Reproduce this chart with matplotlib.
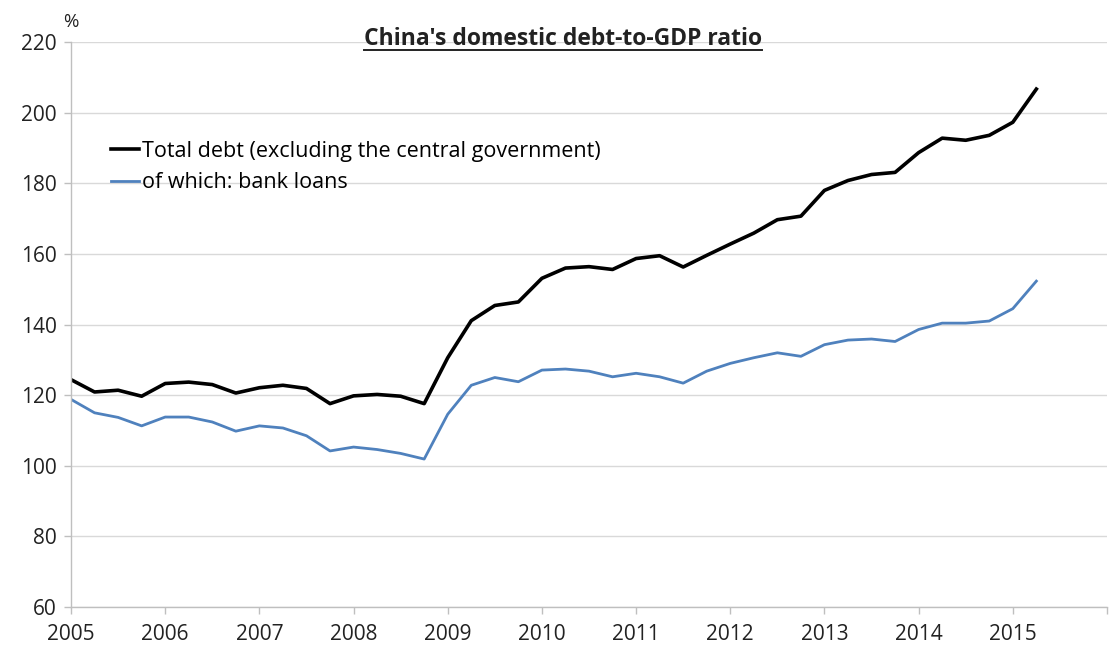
import matplotlib.pyplot as plt
import matplotlib as mpl
from matplotlib.lines import Line2D

mpl.rcParams.update({'font.family': ['Open Sans', 'DejaVu Sans'], 'font.size': 15})

# quarterly observations starting 2005
start_year = 2005
total_debt = [124.4, 120.9, 121.4, 119.7, 123.3, 123.7, 123.0, 120.6, 122.1, 122.8,
              121.9, 117.6, 119.8, 120.2, 119.7, 117.6, 130.6, 141.1, 145.4, 146.4,
              153.1, 156.0, 156.4, 155.6, 158.7, 159.5, 156.3, 159.6, 162.8, 165.9,
              169.7, 170.7, 178.0, 180.8, 182.5, 183.1, 188.7, 192.8, 192.2, 193.6,
              197.3, 206.7]
bank_loans = [118.8, 115.0, 113.7, 111.3, 113.8, 113.8, 112.4, 109.8, 111.3, 110.7,
              108.5, 104.2, 105.3, 104.6, 103.5, 101.9, 114.6, 122.8, 125.0, 123.8,
              127.1, 127.4, 126.8, 125.2, 126.2, 125.2, 123.4, 126.8, 129.0, 130.6,
              132.0, 131.0, 134.3, 135.6, 135.9, 135.2, 138.6, 140.4, 140.4, 141.0,
              144.5, 152.3]
years = list(range(2005, 2017))
year_labels = [str(y) for y in range(2005, 2016)] + ['']

x = [start_year + i / 4 for i in range(len(total_debt))]

fig = plt.figure(figsize=(11.13, 6.48), dpi=100)
ax = fig.add_axes([0.0638, 0.0633, 0.9308, 0.8717])

ax.plot(x, total_debt, color='black', lw=2.6, label='Total debt (excluding the central government)')
ax.plot(x, bank_loans, color='#4f81bd', lw=2.0, label='of which: bank loans')

ax.set_xlim(2005, 2016)
ax.set_ylim(60, 220)
ax.set_yticks(range(60, 221, 20))
ax.set_xticks(years)
ax.set_xticklabels(year_labels)

ax.grid(axis='y', color='#d9d9d9', lw=1)
ax.set_axisbelow(True)
for s in ['top', 'right']:
    ax.spines[s].set_visible(False)
for s in ['left', 'bottom']:
    ax.spines[s].set_color('#bfbfbf')
    ax.spines[s].set_linewidth(1)
ax.tick_params(axis='both', colors='#bfbfbf', labelcolor='#222222', length=5, width=1,
               labelsize=15)
ax.tick_params(axis='y', pad=5)
ax.tick_params(axis='x', pad=7)

ax.text(-0.008, 1.035, '%', transform=ax.transAxes, fontsize=13.5, ha='left', va='center', color='#222222')

leg = ax.legend(loc='upper left', bbox_to_anchor=(0.02, 0.86), frameon=False,
                handlelength=1.3, handletextpad=0.12, labelspacing=0.5, fontsize=15.5)

# title with underline
title = fig.text(0.506, 0.94, "China's domestic debt-to-GDP ratio", ha='center', va='center',
                 fontsize=16.5, fontweight='bold', color='#222222')
fig.canvas.draw()
bb = title.get_window_extent().transformed(fig.transFigure.inverted())
fig.add_artist(Line2D([bb.x0, bb.x1], [bb.y0 + 0.002, bb.y0 + 0.002], color='#222222', lw=1.4,
                      transform=fig.transFigure))

plt.savefig('out.png', dpi=100)
